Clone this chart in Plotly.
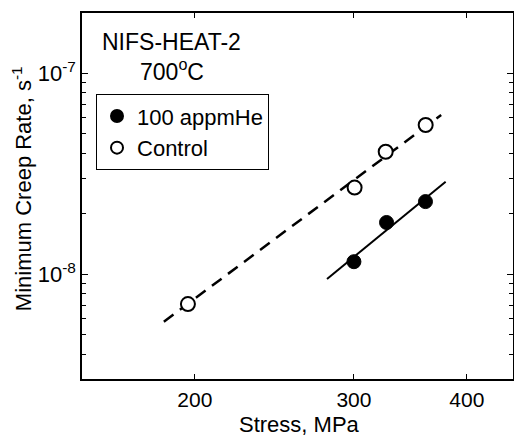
import plotly.graph_objects as go

# Data
he_stress = [300, 326, 360]
he_rate = [1.155e-8, 1.81e-8, 2.30e-8]
ctrl_stress = [196.5, 300.5, 325.3, 360.2]
ctrl_rate = [7.11e-9, 2.70e-8, 4.07e-8, 5.53e-8]

# fitted lines (endpoints)
ctrl_fit_stress = [184.8, 374.7]
ctrl_fit_rate = [5.81e-9, 6.20e-8]
he_fit_stress = [280.1, 379.0]
he_fit_rate = [9.48e-9, 2.89e-8]

x_ticks = [200, 300, 400]
y_ticks = [1e-8, 1e-7]
y_tick_text = ["10<sup>-8</sup>", "10<sup>-7</sup>"]
y_minor = [4e-9, 5e-9, 6e-9, 7e-9, 8e-9, 9e-9,
           2e-8, 3e-8, 4e-8, 5e-8, 6e-8, 7e-8, 8e-8, 9e-8]

FONT = "Liberation Sans, Arial, sans-serif"
FS = 22

fig = go.Figure()
fig.add_trace(go.Scatter(x=ctrl_fit_stress, y=ctrl_fit_rate, mode="lines",
                         line=dict(color="black", width=2.5, dash="12px,8px"),
                         showlegend=False, hoverinfo="skip"))
fig.add_trace(go.Scatter(x=he_fit_stress, y=he_fit_rate, mode="lines",
                         line=dict(color="black", width=2),
                         showlegend=False, hoverinfo="skip"))
fig.add_trace(go.Scatter(x=he_stress, y=he_rate, mode="markers", name="100 appmHe",
                         marker=dict(symbol="circle", size=14, color="black",
                                     line=dict(color="black", width=1))))
fig.add_trace(go.Scatter(x=ctrl_stress, y=ctrl_rate, mode="markers", name="Control",
                         marker=dict(symbol="circle", size=14, color="white",
                                     line=dict(color="black", width=2))))

fig.update_layout(
    width=514, height=436,
    margin=dict(l=82, r=1, t=13, b=57),
    paper_bgcolor="white", plot_bgcolor="white",
    font=dict(family=FONT, size=FS, color="black"),
    showlegend=True,
    legend=dict(x=0.0325, y=0.778, xanchor="left", yanchor="top",
                bordercolor="black", borderwidth=1, bgcolor="white",
                font=dict(size=FS), itemsizing="constant",
                tracegroupgap=0),
    xaxis=dict(type="log", range=[2.1761, 2.6532], automargin=False,
               tickvals=x_ticks, ticktext=[str(v) for v in x_ticks],
               tickfont=dict(size=21),
               ticks="inside", ticklen=5, tickwidth=1, tickcolor="black",
               showline=True, linecolor="black", linewidth=1.5, mirror="allticks",
               showgrid=False, zeroline=False, ticklabelstandoff=1),
    yaxis=dict(type="log", range=[-8.521, -6.70], automargin=False,
               tickvals=y_ticks, ticktext=y_tick_text,
               ticks="inside", ticklen=6, tickwidth=1, tickcolor="black",
               minor=dict(tickvals=y_minor, ticks="inside", ticklen=4,
                          tickwidth=1, tickcolor="black", showgrid=False),
               showline=True, linecolor="black", linewidth=1.5, mirror="allticks",
               showgrid=False, zeroline=False, ticklabelstandoff=0),
    annotations=[
        dict(text="NIFS-HEAT-2", x=0.208, y=0.9216, xref="paper", yref="paper",
             showarrow=False, font=dict(size=23), xanchor="center", yanchor="middle"),
        dict(text="700<sup>o</sup>C", x=0.208, y=0.844, xref="paper", yref="paper",
             showarrow=False, font=dict(size=23), xanchor="center", yanchor="middle"),
        dict(text="Stress, MPa", x=0.5035, y=-0.1230, xref="paper", yref="paper",
             showarrow=False, font=dict(size=FS), xanchor="center", yanchor="middle"),
        dict(text="Minimum Creep Rate, s<sup>-1</sup>", x=-0.139, y=0.519,
             xref="paper", yref="paper", textangle=-90,
             showarrow=False, font=dict(size=FS), xanchor="center", yanchor="middle"),
    ],
)

fig.write_html("out.html", config={"displayModeBar": False},
               post_script="document.body.style.margin='0';document.body.style.overflow='hidden';")
